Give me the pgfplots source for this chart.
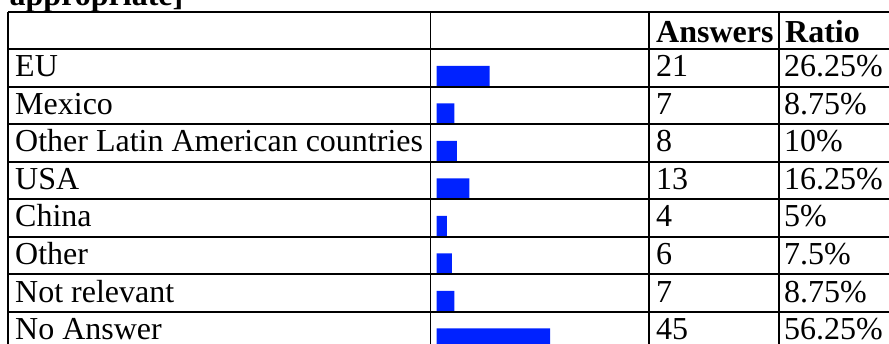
\documentclass[border=0pt]{standalone}
\usepackage{pgfplots}
\pgfplotsset{compat=1.18}
\usepackage{fontspec}
\setmainfont{Liberation Serif}
\definecolor{barblue}{RGB}{0,34,255}
\begin{document}
\begin{tikzpicture}[x=1pt,y=1pt]
\useasboundingbox (0,0) rectangle (889,343);
\begin{axis}[
  at={(0,0)}, anchor=south west,
  width=889pt, height=343pt, scale only axis,
  hide axis, clip=true,
  xmin=-173.3, xmax=179.5,
  ymin=-2.0267, ymax=7.12, y dir=reverse,
  xbar, bar width=20.5pt,
]
\addplot[fill=barblue, draw=none] coordinates {
  (21,0) (7,1) (8,2) (13,3) (4,4) (6,5) (7,6) (45,7)
};
\end{axis}
% table grid (pixel coordinates, y measured from bottom)
\begin{scope}[line width=1.8pt, black]
  \foreach \k in {0,...,8} {
    \pgfmathsetmacro{\yy}{343-11.7-37.5*\k}
    \draw (8,\yy) -- (889,\yy);
  }
  \foreach \xx in {8.3,430.5,649.3,779.3} {
    \draw (\xx,343-11.7) -- (\xx,-2);
  }
\end{scope}
\fontsize{32}{38}\selectfont
\node[anchor=base west, inner sep=0, font=\bfseries] at (9.5,337.5) {appropriate]};
\node[anchor=base west, inner sep=0, font=\bfseries] at (656,343-42.3) {Answers};
\node[anchor=base west, inner sep=0, font=\bfseries] at (785,343-42.3) {Ratio};
\foreach \lab/\n/\r [count=\i from 0] in {EU/21/26.25\%, Mexico/7/8.75\%, Other Latin American countries/8/10\%, USA/13/16.25\%, China/4/5\%, Other/6/7.5\%, Not relevant/7/8.75\%, No Answer/45/56.25\%} {
  \pgfmathsetmacro{\bb}{343-77-37.5*\i}
  \node[anchor=base west, inner sep=0] at (15,\bb) {\lab};
  \node[anchor=base west, inner sep=0] at (656,\bb) {\n};
  \node[anchor=base west, inner sep=0] at (784,\bb) {\r};
}
\end{tikzpicture}
\end{document}
